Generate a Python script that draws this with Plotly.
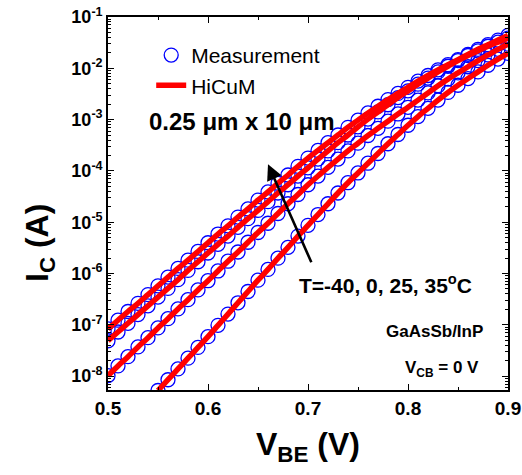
import numpy as np
import plotly.graph_objects as go

# V_BE sweep (V)
vbe = [round(0.50 + 0.01 * i, 2) for i in range(41)]

# log10(Ic / A), one list per temperature
log_ic_35C = [-7.08, -6.91, -6.74, -6.58, -6.41, -6.24, -6.07, -5.90, -5.74, -5.57,
              -5.40, -5.23, -5.07, -4.90, -4.74, -4.57, -4.41, -4.24, -4.08, -3.91,
              -3.75, -3.60, -3.45, -3.30, -3.15, -3.01, -2.87, -2.74, -2.61, -2.49,
              -2.37, -2.25, -2.14, -2.03, -1.93, -1.83, -1.73, -1.63, -1.54, -1.45,
              -1.36]
log_ic_25C = [-7.31, -7.14, -6.97, -6.80, -6.63, -6.46, -6.29, -6.12, -5.94, -5.77,
              -5.60, -5.43, -5.27, -5.10, -4.93, -4.77, -4.60, -4.43, -4.27, -4.10,
              -3.94, -3.77, -3.61, -3.45, -3.30, -3.14, -2.99, -2.85, -2.71, -2.57,
              -2.44, -2.31, -2.19, -2.07, -1.96, -1.85, -1.75, -1.66, -1.57, -1.49,
              -1.41]
log_ic_0C = [-7.99, -7.80, -7.62, -7.43, -7.25, -7.06, -6.88, -6.69, -6.51, -6.32,
             -6.14, -5.95, -5.76, -5.58, -5.39, -5.20, -5.02, -4.83, -4.64, -4.46,
             -4.27, -4.10, -3.93, -3.77, -3.61, -3.46, -3.31, -3.17, -3.03, -2.89,
             -2.76, -2.62, -2.48, -2.34, -2.21, -2.09, -1.97, -1.85, -1.74, -1.63,
             -1.53]
log_ic_m40C = [None, None, None, None, None, -8.28, -8.07, -7.86, -7.65, -7.44,
               -7.23, -7.01, -6.79, -6.57, -6.35, -6.13, -5.92, -5.70, -5.49, -5.27,
               -5.06, -4.85, -4.64, -4.43, -4.23, -4.04, -3.85, -3.66, -3.47, -3.29,
               -3.11, -2.94, -2.78, -2.62, -2.47, -2.33, -2.20, -2.07, -1.94, -1.82,
               -1.71]

series = [log_ic_35C, log_ic_25C, log_ic_0C, log_ic_m40C]

x_ticks = [0.5, 0.6, 0.7, 0.8, 0.9]
y_tick_exps = [-8, -7, -6, -5, -4, -3, -2, -1]

FONT = "Arial, Liberation Sans, sans-serif"
BLUE = "#0000ff"
RED = "#ff0000"


def to_amp(logs):
    return [None if v is None else 10.0 ** v for v in logs]


fig = go.Figure()

for i, s in enumerate(series):
    fig.add_trace(go.Scatter(
        x=vbe, y=to_amp(s), mode="markers", name="Measurement",
        marker=dict(symbol="circle-open", size=14, color=BLUE, line=dict(width=1.3, color=BLUE)),
        showlegend=(i == 0), legendrank=1,
    ))
for i, s in enumerate(series):
    fig.add_trace(go.Scatter(
        x=vbe, y=to_amp(s), mode="lines", name="HiCuM",
        line=dict(color=RED, width=5.5, shape="spline"),
        showlegend=(i == 0), legendrank=2,
    ))

axis_common = dict(
    showline=True, linecolor="black", linewidth=1.6, mirror="allticks",
    ticks="inside", tickcolor="black", tickwidth=1.3, ticklen=6,
    showgrid=False, zeroline=False, automargin=False,
)

fig.update_xaxes(
    range=[0.5, 0.9], tickvals=x_ticks, ticktext=[f"{v:.1f}" for v in x_ticks],
    tickfont=dict(family=FONT, size=19, color="black", weight="bold"),
    minor=dict(ticks="inside", dtick=0.05, ticklen=3, tickcolor="black", tickwidth=1.2),
    **axis_common,
)
fig.update_yaxes(
    type="log", range=[-8.27, -1],
    tickvals=[10.0 ** e for e in y_tick_exps],
    ticktext=[f"10<sup>{e}</sup>" for e in y_tick_exps],
    tickfont=dict(family=FONT, size=18, color="black", weight="bold"),
    minor=dict(ticks="inside", dtick="D1", ticklen=3, tickcolor="black", tickwidth=1),
    **axis_common,
)

annotations = [
    dict(text="<b>0.25 μm x 10 μm</b>", xref="paper", yref="paper",
         x=(147 - 108) / 400, y=(390 - 122) / 373, xanchor="left", yanchor="middle",
         showarrow=False, font=dict(family=FONT, size=24, color="black")),
    dict(text="<b>T=-40, 0, 25, 35<sup>o</sup>C</b>", xref="paper", yref="paper",
         x=(297 - 108) / 400, y=(390 - 284) / 373, xanchor="left", yanchor="middle",
         showarrow=False, font=dict(family=FONT, size=21, color="black")),
    dict(text="<b>GaAsSb/InP</b>", xref="paper", yref="paper",
         x=(485 - 108) / 400, y=(390 - 331) / 373, xanchor="right", yanchor="middle",
         showarrow=False, font=dict(family=FONT, size=17, color="black")),
    dict(text="<b>V<sub>CB</sub> = 0 V</b>", xref="paper", yref="paper",
         x=(481 - 108) / 400, y=(390 - 369) / 373, xanchor="right", yanchor="middle",
         showarrow=False, font=dict(family=FONT, size=17, color="black")),
    # temperature arrow
    dict(text="", x=0.660, y=-3.87, xref="x", yref="y",
         ax=0.704, ay=-5.81, axref="x", ayref="y",
         showarrow=True, arrowhead=2, arrowsize=1.2, arrowwidth=2.6, arrowcolor="black",
         standoff=0, startstandoff=0),
    # axis titles
    dict(text="<b>V<sub>BE</sub> (V)</b>", xref="paper", yref="paper",
         x=0.5, y=(390 - 446) / 373, xanchor="center", yanchor="middle",
         showarrow=False, font=dict(family=FONT, size=32, color="black")),
    dict(text="<b>I<sub>C</sub> (A)</b>", xref="paper", yref="paper",
         x=(40 - 108) / 400, y=(390 - 243) / 373, xanchor="center", yanchor="middle",
         textangle=-90, showarrow=False, font=dict(family=FONT, size=32, color="black")),
]

fig.update_layout(
    width=522, height=475,
    margin=dict(l=108, r=14, t=17, b=85, autoexpand=False),
    paper_bgcolor="white", plot_bgcolor="white",
    font=dict(family=FONT, color="black"),
    annotations=annotations,
    legend=dict(x=0.108, y=0.952, xanchor="left", yanchor="top",
                bgcolor="rgba(0,0,0,0)", borderwidth=0,
                font=dict(family=FONT, size=21, color="black"),
                tracegroupgap=0, itemwidth=30),
)

fig.write_html(
    "out.html",
    config={"displayModeBar": False},
    post_script="document.body.style.margin='0px'; document.body.style.overflow='hidden';",
)
